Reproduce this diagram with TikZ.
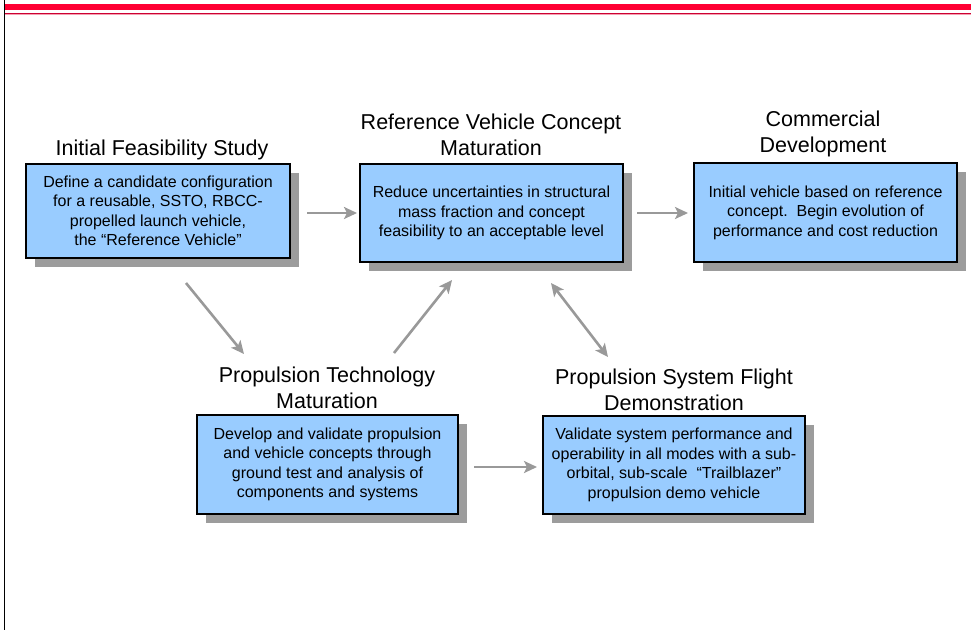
\documentclass[tikz,border=0pt]{standalone}
\usepackage{fontspec}
\setmainfont{Liberation Sans}
\usetikzlibrary{arrows.meta,shadows}
\definecolor{boxblue}{HTML}{99CCFF}
\definecolor{shadowgray}{HTML}{9C9C9C}
\definecolor{arrowgray}{HTML}{999999}
\definecolor{bandred}{HTML}{FF0033}
\definecolor{linered}{HTML}{CC0033}
\definecolor{linepink}{HTML}{F5A0B0}
\begin{document}
\begin{tikzpicture}[x=1pt,y=-1pt,
  stagebox/.style={draw=black, line width=1.3pt, fill=boxblue, align=center,
    inner sep=0pt, font=\fontsize{16}{19.5}\selectfont,
    drop shadow={shadow xshift=9pt, shadow yshift=-9pt, fill=shadowgray, opacity=1}},
  stagetitle/.style={align=center, inner sep=0pt, font=\fontsize{21.5}{26}\selectfont},
  flow/.style={draw=arrowgray, line width=2.6pt, -{Stealth[length=13pt,width=12pt,inset=3pt]}},
  flowboth/.style={draw=arrowgray, line width=2.6pt, {Stealth[length=13pt,width=12pt,inset=3pt]}-{Stealth[length=13pt,width=12pt,inset=3pt]}}
]
\useasboundingbox (0,0) rectangle (971,630);
% header band and frame
\fill[bandred] (5,4) rectangle (971,9.5);
\fill[linered] (5,12.5) rectangle (971,13.8);
\fill[linepink] (5,13.8) rectangle (971,15);
\draw[black, line width=1pt] (4,0) -- (4,630);

% boxes
\node[stagebox, minimum width=264pt, minimum height=94pt] (feas) at (158,211)
  {Define a candidate configuration\\for a reusable, SSTO, RBCC-\\propelled launch vehicle,\\the “Reference Vehicle”};
\node[stagebox, minimum width=263pt, minimum height=98pt] (ref) at (491.5,213)
  {Reduce uncertainties in structural\\mass fraction and concept\\feasibility to an acceptable level};
\node[stagebox, minimum width=263pt, minimum height=99pt] (comm) at (825.5,212.5)
  {Initial vehicle based on reference\\concept.\ \ Begin evolution of\\performance and cost reduction};
\node[stagebox, minimum width=261pt, minimum height=99pt] (prop) at (327.5,464.5)
  {Develop and validate propulsion\\and vehicle concepts through\\ground test and analysis of\\components and systems};
\node[stagebox, minimum width=262pt, minimum height=98pt] (demo) at (674,465)
  {Validate system performance and\\operability in all modes with a sub-\\orbital, sub-scale \ “Trailblazer”\\propulsion demo vehicle};

% titles
\node[stagetitle] (tfeas) at (162,150) {Initial Feasibility Study};
\node[stagetitle] (tref) at (491,135) {Reference Vehicle Concept\\Maturation};
\node[stagetitle] (tcomm) at (823,134) {Commercial\\Development};
\node[stagetitle] (tprop) at (327,388) {Propulsion Technology\\Maturation};
\node[stagetitle] (tdemo) at (674,390) {Propulsion System Flight\\Demonstration};

% connector end points
\coordinate (a1s) at (307,213);
\coordinate (a1e) at (357,213);
\coordinate (a2s) at (637,213);
\coordinate (a2e) at (688,213);
\coordinate (a3s) at (186,283);
\coordinate (a3e) at (244,354);
\coordinate (a4s) at (394,353);
\coordinate (a4e) at (452,280);
\coordinate (a5s) at (551,283);
\coordinate (a5e) at (608,357);
\coordinate (a6s) at (474,467);
\coordinate (a6e) at (537,467);

\draw[flow] (a1s) -- (a1e);
\draw[flow] (a2s) -- (a2e);
\draw[flow] (a3s) -- (a3e);
\draw[flow] (a4s) -- (a4e);
\draw[flowboth] (a5s) -- (a5e);
\draw[flow] (a6s) -- (a6e);
\end{tikzpicture}
\end{document}
